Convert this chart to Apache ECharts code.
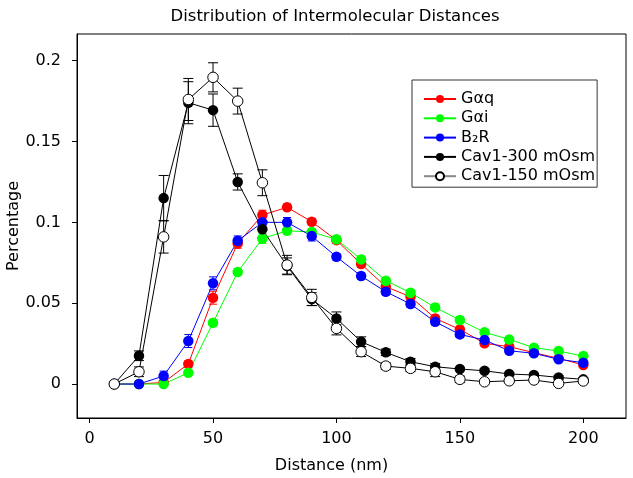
<!DOCTYPE html>
<html><head><meta charset="utf-8">
<script src="https://cdn.jsdelivr.net/npm/echarts@6/dist/echarts.min.js"></script>
<style>html,body{margin:0;padding:0;background:#fff}#c{width:633px;height:478px}</style>
</head><body><div id="c"></div>
<script>
const distances = [10,20,30,40,50,60,70,80,90,100,110,120,130,140,150,160,170,180,190,200];
const xTicks = [0,50,100,150,200];
const yTicks = [0,0.05,0.1,0.15,0.2];
const seriesNames = ['Gαq','Gαi','B₂R','Cav1-300 mOsm','Cav1-150 mOsm'];
const gaq    = [0,0,0.001,0.0124,0.0534,0.087,0.1045,0.1093,0.1004,0.089,0.0742,0.0602,0.054,0.0406,0.0338,0.0252,0.0231,0.0194,0.0159,0.0118];
const gai    = [0,0,0,0.007,0.0379,0.0693,0.090,0.0948,0.094,0.0895,0.0771,0.0639,0.0565,0.0474,0.0396,0.032,0.0276,0.0225,0.0204,0.0173];
const b2r    = [0,0,0.005,0.0266,0.0623,0.0886,0.100,0.100,0.0915,0.0787,0.0668,0.0571,0.0495,0.0385,0.0307,0.0272,0.0206,0.019,0.0153,0.0132];
const cav300 = [0,0.0175,0.115,0.174,0.1694,0.125,0.0957,0.073,0.0525,0.0406,0.0262,0.0196,0.0138,0.0107,0.0093,0.0082,0.0062,0.0056,0.0041,0.0029];
const cav150 = [0,0.0076,0.091,0.176,0.1897,0.175,0.1245,0.0736,0.0536,0.0344,0.020,0.0111,0.0097,0.0076,0.0029,0.0014,0.002,0.0025,0.0004,0.0019];
const errGaq = [0,0,0.001,0.002,0.004,0.003,0.003,0.002,0.002,0.002,0.002,0.002,0.002,0.002,0.002,0.002,0.001,0.001,0.001,0.001];
const errGai = [0,0,0,0.001,0.002,0.002,0.003,0.002,0.002,0.002,0.002,0.002,0.002,0.002,0.002,0.001,0.001,0.001,0.001,0.001];
const errB2r = [0,0,0.003,0.004,0.004,0.003,0.003,0.003,0.003,0.002,0.002,0.002,0.002,0.002,0.002,0.001,0.001,0.001,0.001,0.001];
const err300 = [0,0.003,0.014,0.013,0.010,0.005,0.005,0.005,0.004,0.004,0.003,0.002,0.002,0.002,0.001,0.001,0.001,0.001,0.001,0.001];
const err150 = [0,0.003,0.010,0.013,0.009,0.008,0.008,0.006,0.005,0.004,0.003,0.002,0.002,0.003,0.002,0.001,0.001,0.001,0.001,0.001];

const FONT = 'DejaVu Sans';
const pts = v => distances.map((d,i)=>[d, v[i]]);
const errPts = (v,e) => distances.map((d,i)=>[d, v[i], e[i]]);

function errSeries(id, vals, errs, color, cap, z){
  return {
    type:'custom', name:id, silent:true, z:z, data: errPts(vals, errs), encode:{x:0, y:1},
    renderItem: function(params, api){
      const x = api.value(0), y = api.value(1), e = api.value(2);
      if (!e) return null;
      const t = api.coord([x, y + e]), b = api.coord([x, y - e]);
      const st = {stroke: color, lineWidth: 1, fill: null};
      return {type:'group', children:[
        {type:'line', shape:{x1:t[0], y1:t[1], x2:b[0], y2:b[1]}, style:st},
        {type:'line', shape:{x1:t[0]-cap, y1:t[1], x2:t[0]+cap, y2:t[1]}, style:st},
        {type:'line', shape:{x1:b[0]-cap, y1:b[1], x2:b[0]+cap, y2:b[1]}, style:st}
      ]};
    }
  };
}
function lineSeries(name, vals, color, fill, z){
  return {
    type:'line', name:name, data: pts(vals), symbol:'circle', symbolSize: 10.5, z:z,
    lineStyle:{color: color, width: 1},
    itemStyle:{color: fill, borderColor: color, borderWidth: fill === '#fff' ? 1 : 0},
    emphasis:{disabled:true}, animation:false
  };
}

const chart = echarts.init(document.getElementById('c'), null, {renderer:'canvas'});
chart.setOption({
  animation:false,
  backgroundColor:'#fff',
  title:{text:'Distribution of Intermolecular Distances', left:330, top:3, textAlign:'center',
    textStyle:{fontFamily:FONT, fontSize:16.5, fontWeight:'normal', color:'#000'}},
  grid:{left:77, right:7, top:34, bottom:60, show:true, borderColor:'#000', borderWidth:1,
    backgroundColor:'transparent', containLabel:false, outerBoundsMode:'none'},
  legend:{
    orient:'vertical', left:412, top:80, itemWidth:32, itemHeight:10, itemGap:3.3,
    padding:[11,2,3,11], borderColor:'#333', borderWidth:1, backgroundColor:'#fff',
    textStyle:{fontFamily:FONT, fontSize:16, color:'#000'},
    data:[
      {name:seriesNames[0]},
      {name:seriesNames[1]},
      {name:seriesNames[2]},
      {name:seriesNames[3]},
      {name:seriesNames[4], lineStyle:{color:'#888'}}
    ]
  },
  xAxis:{
    type:'value', min:-5.1, max:217.3,
    name:'Distance (nm)', nameLocation:'middle', nameGap:40, nameMoveOverlap:false,
    nameTextStyle:{fontFamily:FONT, fontSize:16, color:'#000', padding:[0,40,0,0]},
    axisLine:{show:true, onZero:false, lineStyle:{color:'#000'}},
    axisTick:{show:true, inside:false, length:5, customValues:xTicks, lineStyle:{color:'#000'}},
    axisLabel:{customValues:xTicks, margin:13, fontFamily:FONT, fontSize:16, color:'#000'},
    splitLine:{show:false}
  },
  yAxis:{
    type:'value', min:-0.021, max:0.2165,
    name:'Percentage', nameLocation:'middle', nameGap:55, nameMoveOverlap:false,
    nameTextStyle:{fontFamily:FONT, fontSize:16, color:'#000'},
    axisLine:{show:true, onZero:false, lineStyle:{color:'#000'}},
    axisTick:{show:true, inside:false, length:5, customValues:yTicks, lineStyle:{color:'#000'}},
    axisLabel:{customValues:yTicks, margin:16, fontFamily:FONT, fontSize:16, color:'#000',
      formatter: v => String(v)},
    splitLine:{show:false}
  },
  series:[
    errSeries('e1', gaq, errGaq, '#f00', 4, 1),
    errSeries('e2', gai, errGai, '#0f0', 4, 1),
    errSeries('e3', b2r, errB2r, '#00f', 4, 1),
    errSeries('e4', cav300, err300, '#000', 5, 1),
    errSeries('e5', cav150, err150, '#000', 5, 1),
    lineSeries(seriesNames[0], gaq, '#f00', '#f00', 2),
    lineSeries(seriesNames[1], gai, '#0f0', '#0f0', 2),
    lineSeries(seriesNames[2], b2r, '#00f', '#00f', 2),
    lineSeries(seriesNames[3], cav300, '#000', '#000', 2),
    lineSeries(seriesNames[4], cav150, '#000', '#fff', 2)
  ]
});
</script></body></html>
